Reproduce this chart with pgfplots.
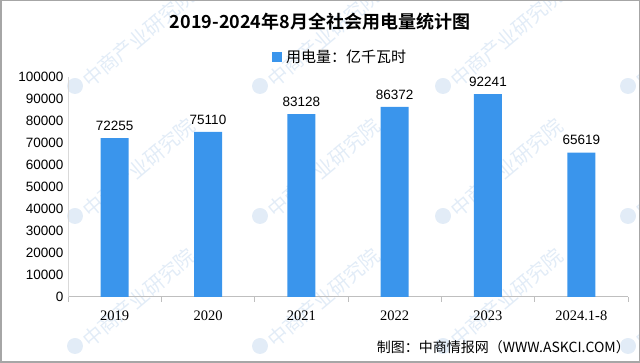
\documentclass[border=0pt]{standalone}
\usepackage{pgfplots}
\pgfplotsset{compat=1.18}
\usepackage{fontspec}
\setmainfont{Liberation Sans}
\newfontfamily\cjk{Noto Sans CJK SC}[BoldFont={Noto Sans CJK SC Bold}]
\newfontfamily\serifnum{Liberation Serif}
\definecolor{barblue}{HTML}{3A95EC}
\definecolor{wm}{HTML}{E2ECF7}
\definecolor{axgray}{HTML}{BFBFBF}
\definecolor{axlight}{HTML}{D9D9D9}
\begin{document}
\begin{tikzpicture}[x=1pt,y=1pt]
\path[use as bounding box] (0,0) rectangle (640,363);
% watermarks
\foreach \xx in {75,260,443,628}{\foreach \yy in {86,216,346}{
 \node[anchor=west, rotate=40, text=wm, font=\cjk\fontsize{20}{20}\selectfont, inner sep=0pt] at (\xx+10, 363-\yy+3) {中商产业研究院};
 \fill[wm] (\xx,363-\yy) circle (8);
}}
\begin{axis}[at={(68pt,66pt)}, anchor=south west, scale only axis,
 width=560pt, height=220pt,
 xmin=-0.5, xmax=5.5, ymin=0, ymax=100000,
 xtick={0,...,5}, xticklabels={2019,2020,2021,2022,2023,2024.1-8},
 minor xtick={-0.5,0.5,...,5.5},
 ytick={0,10000,...,100000},
 scaled y ticks=false,
 axis x line*=bottom, axis y line*=left,
 x axis line style={draw=axgray, line width=1pt, -},
 y axis line style={draw=axlight, line width=0.8pt, -},
 major tick length=0pt, minor tick length=5pt, tick align=outside,
 minor tick style={draw=axgray, line width=0.8pt},
 yticklabel style={font=\fontsize{13.5}{14}\selectfont, xshift=-1pt, /pgf/number format/.cd, fixed, 1000 sep={}, assume math mode=true},
 xticklabel style={font=\serifnum\fontsize{14.5}{14.5}\selectfont, yshift=-10pt},
 ybar, bar width=28pt,
 point meta=explicit symbolic,
 nodes near coords,
 nodes near coords style={font=\fontsize{13.5}{14}\selectfont, yshift=4pt},
 clip=false,
]
\addplot[fill=barblue, draw=none] coordinates {
 (0,72255) [72255]
 (1,75110) [75110]
 (2,83128) [83128]
 (3,86372) [86372]
 (4,92241) [92241]
 (5,65619) [65619]
};
\end{axis}
\node[font=\cjk\bfseries\fontsize{18}{18}\selectfont] at (320,363-22) {2019-2024年8月全社会用电量统计图};
\fill[barblue] (272,363-62) rectangle (282,363-52);
\node[anchor=west, inner sep=0pt, font=\cjk\fontsize{15}{15}\selectfont] at (286,363-57) {用电量：亿千瓦时};
\node[anchor=east, inner sep=0pt, font=\cjk\fontsize{14}{14}\selectfont] at (630,363-347) {制图：中商情报网（WWW.ASKCI.COM）};
\draw[gray!70, line width=1.5pt] (0.75,0.75) rectangle (639.25,362.25);
\end{tikzpicture}
\end{document}
